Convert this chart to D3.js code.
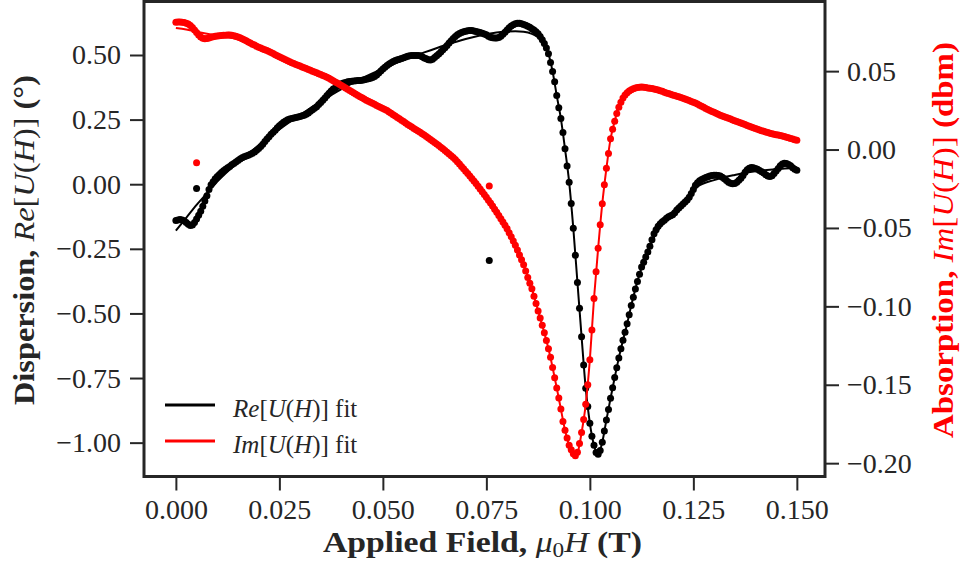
<!DOCTYPE html>
<html>
<head>
<meta charset="utf-8">
<script src="https://cdn.jsdelivr.net/npm/d3@7"></script>
<style>
  html, body { margin: 0; padding: 0; background: #fff; }
  svg { display: block; }
  text { font-family: "Liberation Serif", "Times New Roman", serif; }
</style>
</head>
<body>
<svg id="chart" width="961" height="570"></svg>
<script>
// Field sweep: 0 T to 0.150 T in 0.5 mT steps (301 samples)
const fieldStep = 0.0005;

// Dispersion, Re[U(H)] (deg) at each field sample
const reData = [
  -0.140,-0.138,-0.137,-0.138,-0.141,-0.148,-0.155,-0.160,-0.158,-0.148,
  -0.135,-0.120,-0.105,-0.085,-0.065,-0.045,-0.020,-0.002,0.010,0.021,
  0.030,0.038,0.045,0.052,0.058,0.064,0.069,0.075,0.080,0.086,
  0.092,0.098,0.102,0.106,0.109,0.112,0.116,0.120,0.125,0.131,
  0.138,0.146,0.155,0.165,0.175,0.184,0.193,0.201,0.209,0.218,
  0.226,0.233,0.240,0.245,0.249,0.252,0.254,0.256,0.258,0.260,
  0.262,0.265,0.267,0.271,0.276,0.282,0.288,0.294,0.300,0.308,
  0.316,0.325,0.334,0.343,0.352,0.361,0.368,0.372,0.379,0.385,
  0.389,0.392,0.394,0.396,0.397,0.398,0.399,0.400,0.401,0.401,
  0.402,0.404,0.406,0.408,0.410,0.413,0.417,0.423,0.430,0.438,
  0.446,0.453,0.459,0.465,0.470,0.475,0.479,0.482,0.484,0.486,
  0.489,0.492,0.495,0.497,0.498,0.498,0.498,0.498,0.497,0.493,
  0.488,0.485,0.482,0.481,0.484,0.490,0.497,0.504,0.512,0.520,
  0.528,0.537,0.546,0.555,0.564,0.572,0.578,0.583,0.587,0.590,
  0.592,0.594,0.595,0.595,0.593,0.591,0.589,0.587,0.584,0.581,
  0.578,0.573,0.569,0.567,0.566,0.566,0.568,0.573,0.580,0.588,
  0.597,0.605,0.612,0.617,0.621,0.623,0.623,0.621,0.618,0.615,
  0.611,0.607,0.602,0.597,0.590,0.582,0.572,0.559,0.544,0.527,
  0.505,0.471,0.436,0.396,0.343,0.296,0.254,0.200,0.137,0.070,
  0.008,-0.075,-0.170,-0.275,-0.380,-0.480,-0.590,-0.700,-0.790,-0.860,
  -0.925,-0.975,-1.010,-1.038,-1.045,-1.030,-0.998,-0.955,-0.912,-0.872,
  -0.828,-0.788,-0.748,-0.710,-0.672,-0.637,-0.604,-0.573,-0.540,-0.505,
  -0.469,-0.437,-0.405,-0.376,-0.348,-0.320,-0.302,-0.282,-0.262,-0.240,
  -0.215,-0.192,-0.176,-0.163,-0.153,-0.145,-0.139,-0.132,-0.126,-0.122,
  -0.118,-0.110,-0.100,-0.092,-0.084,-0.077,-0.069,-0.061,-0.050,-0.036,
  -0.020,-0.004,0.006,0.013,0.018,0.022,0.026,0.029,0.032,0.034,
  0.035,0.035,0.034,0.032,0.027,0.021,0.014,0.008,0.004,0.002,
  0.003,0.008,0.015,0.023,0.034,0.046,0.056,0.062,0.065,0.064,
  0.061,0.058,0.053,0.048,0.043,0.037,0.032,0.030,0.033,0.041,
  0.051,0.061,0.071,0.078,0.081,0.080,0.076,0.071,0.064,0.058,
  0.054
];

// Absorption, Im[U(H)] (dbm) at each field sample
const imData = [
  0.0812,0.0813,0.0813,0.0812,0.0810,0.0806,0.0800,0.0791,0.0778,0.0763,
  0.0747,0.0730,0.0717,0.0709,0.0706,0.0708,0.0712,0.0716,0.0719,0.0722,
  0.0724,0.0726,0.0727,0.0728,0.0729,0.0730,0.0730,0.0729,0.0726,0.0722,
  0.0718,0.0713,0.0707,0.0700,0.0693,0.0686,0.0679,0.0672,0.0666,0.0659,
  0.0653,0.0647,0.0641,0.0636,0.0631,0.0625,0.0618,0.0612,0.0605,0.0598,
  0.0591,0.0585,0.0579,0.0572,0.0566,0.0560,0.0554,0.0548,0.0543,0.0537,
  0.0532,0.0527,0.0521,0.0516,0.0511,0.0505,0.0500,0.0494,0.0489,0.0483,
  0.0478,0.0472,0.0467,0.0461,0.0454,0.0446,0.0439,0.0431,0.0424,0.0416,
  0.0408,0.0400,0.0392,0.0384,0.0376,0.0368,0.0360,0.0353,0.0345,0.0337,
  0.0330,0.0322,0.0315,0.0308,0.0301,0.0295,0.0288,0.0281,0.0275,0.0268,
  0.0262,0.0255,0.0249,0.0240,0.0231,0.0222,0.0214,0.0205,0.0196,0.0187,
  0.0178,0.0169,0.0160,0.0151,0.0143,0.0134,0.0126,0.0118,0.0110,0.0101,
  0.0092,0.0083,0.0074,0.0064,0.0055,0.0045,0.0035,0.0025,0.0015,0.0005,
  -0.0006,-0.0017,-0.0028,-0.0039,-0.0050,-0.0064,-0.0078,-0.0093,-0.0108,-0.0123,
  -0.0138,-0.0153,-0.0169,-0.0185,-0.0201,-0.0217,-0.0234,-0.0251,-0.0269,-0.0287,
  -0.0305,-0.0323,-0.0341,-0.0360,-0.0380,-0.0400,-0.0420,-0.0441,-0.0462,-0.0483,
  -0.0505,-0.0530,-0.0556,-0.0583,-0.0610,-0.0640,-0.0672,-0.0703,-0.0735,-0.0775,
  -0.0816,-0.0853,-0.0888,-0.0935,-0.0982,-0.1029,-0.1075,-0.1121,-0.1168,-0.1218,
  -0.1271,-0.1325,-0.1390,-0.1455,-0.1520,-0.1585,-0.1655,-0.1735,-0.1790,-0.1840,
  -0.1885,-0.1915,-0.1940,-0.1952,-0.1930,-0.1874,-0.1805,-0.1722,-0.1625,-0.1500,
  -0.1340,-0.1150,-0.0950,-0.0780,-0.0630,-0.0480,-0.0345,-0.0225,-0.0120,-0.0025,
  0.0068,0.0130,0.0181,0.0230,0.0270,0.0302,0.0329,0.0347,0.0362,0.0373,
  0.0381,0.0388,0.0393,0.0396,0.0397,0.0398,0.0397,0.0395,0.0393,0.0391,
  0.0389,0.0386,0.0383,0.0379,0.0375,0.0371,0.0366,0.0361,0.0357,0.0353,
  0.0348,0.0344,0.0340,0.0336,0.0332,0.0327,0.0322,0.0317,0.0312,0.0307,
  0.0302,0.0296,0.0290,0.0283,0.0276,0.0269,0.0262,0.0256,0.0249,0.0243,
  0.0237,0.0231,0.0225,0.0219,0.0214,0.0209,0.0204,0.0199,0.0194,0.0189,
  0.0184,0.0179,0.0174,0.0169,0.0164,0.0159,0.0154,0.0149,0.0144,0.0139,
  0.0134,0.0129,0.0124,0.0120,0.0116,0.0112,0.0108,0.0104,0.0101,0.0098,
  0.0095,0.0092,0.0089,0.0086,0.0083,0.0079,0.0075,0.0071,0.0067,0.0063,
  0.0059
];

// Two stray readings that fall off the main sweep
const outlierFields = [0.0050, 0.0757];
const reOutliers = [-0.017, -0.295];
const imOutliers = [-0.0085, -0.0232];

// Fitted model curves
const fitFields = [
  0, 0.0025, 0.005, 0.0075, 0.010, 0.015, 0.020, 0.025, 0.030, 0.035,
  0.040, 0.045, 0.050, 0.055, 0.060, 0.065, 0.070, 0.075, 0.078, 0.080,
  0.082, 0.084, 0.086, 0.087, 0.088, 0.089, 0.090, 0.091, 0.092, 0.093,
  0.094, 0.095, 0.096, 0.097, 0.098, 0.099, 0.100, 0.101, 0.102, 0.103,
  0.104, 0.105, 0.106, 0.107, 0.108, 0.109, 0.110, 0.111, 0.112, 0.114,
  0.116, 0.118, 0.120, 0.123, 0.126, 0.130, 0.135, 0.140, 0.145, 0.150
];
const reFit = [
  -0.180, -0.130, -0.080, -0.035, 0.010, 0.085, 0.150, 0.212, 0.268, 0.320,
  0.368, 0.410, 0.447, 0.480, 0.510, 0.538, 0.562, 0.580, 0.588, 0.591,
  0.592, 0.590, 0.582, 0.574, 0.562, 0.543, 0.505, 0.436, 0.343, 0.254,
  0.137, 0.008, -0.170, -0.380, -0.590, -0.790, -0.925, -1.010, -1.045, -0.998,
  -0.912, -0.828, -0.748, -0.672, -0.604, -0.540, -0.469, -0.405, -0.348, -0.262,
  -0.190, -0.145, -0.110, -0.060, -0.010, 0.016, 0.036, 0.050, 0.058, 0.064
];
const imFit = [
  0.0775, 0.0765, 0.0752, 0.0738, 0.0725, 0.0703, 0.0660, 0.0600, 0.0537, 0.0478,
  0.0408, 0.0330, 0.0262, 0.0178, 0.0092, -0.0006, -0.0138, -0.0305, -0.0420, -0.0505,
  -0.0610, -0.0735, -0.0888, -0.0982, -0.1075, -0.1168, -0.1271, -0.1390, -0.1520, -0.1655,
  -0.1790, -0.1885, -0.1940, -0.1930, -0.1805, -0.1625, -0.1340, -0.0950, -0.0630, -0.0345,
  -0.0120, 0.0068, 0.0181, 0.0270, 0.0329, 0.0362, 0.0381, 0.0393, 0.0397, 0.0393,
  0.0383, 0.0366, 0.0348, 0.0322, 0.0290, 0.0237, 0.0184, 0.0134, 0.0095, 0.0059
];

// Tick positions
const xTicks = [0, 0.025, 0.05, 0.075, 0.1, 0.125, 0.15];
const leftTicks = [-1.0, -0.75, -0.5, -0.25, 0.0, 0.25, 0.5];
const rightTicks = [-0.20, -0.15, -0.10, -0.05, 0.00, 0.05];

// Legend entries
const legendKeys = ["Re", "Im"];

const RED = "#ff0000";
const INK = "#262626";

const svg = d3.select("#chart");
const plot = { left: 144, right: 825, top: 1.5, bottom: 476.5 };

const x = d3.scaleLinear().domain([-0.0077, 0.1568]).range([plot.left, plot.right]);
const yRe = d3.scaleLinear().domain([-1.131, 0.707]).range([plot.bottom, plot.top]);
const yIm = d3.scaleLinear().domain([-0.2085, 0.0944]).range([plot.bottom, plot.top]);

const fields = reData.map((_, i) => i * fieldStep);

// clip so that nothing spills over the frame
svg.append("defs").append("clipPath").attr("id", "plotClip")
  .append("rect")
  .attr("x", plot.left).attr("y", plot.top)
  .attr("width", plot.right - plot.left).attr("height", plot.bottom - plot.top);

const body = svg.append("g").attr("clip-path", "url(#plotClip)");

function drawSeries(values, yScale, fitValues, outliers, color) {
  const g = body.append("g");
  g.selectAll("circle.pt")
    .data(values)
    .join("circle")
    .attr("class", "pt")
    .attr("cx", (d, i) => x(fields[i]))
    .attr("cy", d => yScale(d))
    .attr("r", 3.5)
    .attr("fill", color);
  g.selectAll("circle.out")
    .data(outliers)
    .join("circle")
    .attr("class", "out")
    .attr("cx", (d, i) => x(outlierFields[i]))
    .attr("cy", d => yScale(d))
    .attr("r", 3.5)
    .attr("fill", color);
  const line = d3.line()
    .x((d, i) => x(fitFields[i]))
    .y(d => yScale(d))
    .curve(d3.curveMonotoneX);
  g.append("path")
    .datum(fitValues)
    .attr("d", line)
    .attr("fill", "none")
    .attr("stroke", color)
    .attr("stroke-width", 2);
}

drawSeries(reData, yRe, reFit, reOutliers, "#000");
drawSeries(imData, yIm, imFit, imOutliers, RED);

// Axes
const fmt2 = d3.format(".2f");
const fmt3 = d3.format(".3f");

function styleAxis(g) {
  g.select(".domain").remove();
  g.selectAll(".tick line").attr("stroke", INK).attr("stroke-width", 2);
  g.selectAll(".tick text")
    .attr("fill", INK)
    .style("font-family", '"Liberation Serif", serif')
    .style("font-size", "28px");
}

svg.append("g")
  .attr("transform", `translate(0,${plot.bottom})`)
  .call(d3.axisBottom(x).tickValues(xTicks).tickFormat(fmt3).tickSize(14).tickPadding(9))
  .call(styleAxis);

svg.append("g")
  .attr("transform", `translate(${plot.left},0)`)
  .call(d3.axisLeft(yRe).tickValues(leftTicks).tickFormat(fmt2).tickSize(14).tickPadding(9))
  .call(styleAxis);

svg.append("g")
  .attr("transform", `translate(${plot.right},0)`)
  .call(d3.axisRight(yIm).tickValues(rightTicks).tickFormat(fmt2).tickSize(14).tickPadding(8))
  .call(styleAxis);

// Frame
svg.append("rect")
  .attr("x", plot.left).attr("y", plot.top)
  .attr("width", plot.right - plot.left).attr("height", plot.bottom - plot.top)
  .attr("fill", "none").attr("stroke", INK).attr("stroke-width", 3);

// Mixed-style label: bold words plus math-italic symbols
function richText(textSel, parts) {
  parts.forEach(p => {
    const t = textSel.append("tspan").text(p.t)
      .attr("font-weight", p.b ? "bold" : "normal")
      .attr("font-style", p.i ? "italic" : "normal");
    if (p.size) t.style("font-size", p.size);
    if (p.dy) t.attr("dy", p.dy);
  });
}

function mathUH(prefix) {
  return [
    { t: prefix, i: true },
    { t: "[" },
    { t: "U", i: true },
    { t: "(" },
    { t: "H", i: true },
    { t: ")]" }
  ];
}

const xLabel = svg.append("text")
  .attr("x", 482.5).attr("y", 552)
  .attr("text-anchor", "middle")
  .style("font-size", "29px")
  .attr("fill", INK)
  .attr("textLength", 319).attr("lengthAdjust", "spacingAndGlyphs");
richText(xLabel, [
  { t: "Applied Field, ", b: true },
  { t: "μ", i: true },
  { t: "0", size: "20px", dy: 5 },
  { t: "H", i: true, dy: -5 },
  { t: " (T)", b: true }
]);

const leftLabel = svg.append("text")
  .attr("transform", "translate(33.5,240) rotate(-90)")
  .attr("text-anchor", "middle")
  .style("font-size", "29px")
  .attr("fill", INK)
  .attr("textLength", 330).attr("lengthAdjust", "spacingAndGlyphs");
richText(leftLabel, [{ t: "Dispersion, ", b: true }, ...mathUH("Re"), { t: " (°)", b: true }]);

const rightLabel = svg.append("text")
  .attr("transform", "translate(953,240) rotate(-90)")
  .attr("text-anchor", "middle")
  .style("font-size", "29px")
  .attr("fill", RED)
  .attr("textLength", 396).attr("lengthAdjust", "spacingAndGlyphs");
richText(rightLabel, [{ t: "Absorption, ", b: true }, ...mathUH("Im"), { t: " (dbm)", b: true }]);

// Legend
const legendColors = ["#000", RED];
const legend = svg.append("g");
legendKeys.forEach((key, i) => {
  const yLine = 405 + i * 36;
  legend.append("line")
    .attr("x1", 165).attr("x2", 215)
    .attr("y1", yLine).attr("y2", yLine)
    .attr("stroke", legendColors[i]).attr("stroke-width", 3);
  const t = legend.append("text")
    .attr("x", 233).attr("y", yLine + 12)
    .style("font-size", "25px")
    .attr("fill", INK);
  richText(t, [...mathUH(key), { t: " fit" }]);
});
</script>
</body>
</html>
